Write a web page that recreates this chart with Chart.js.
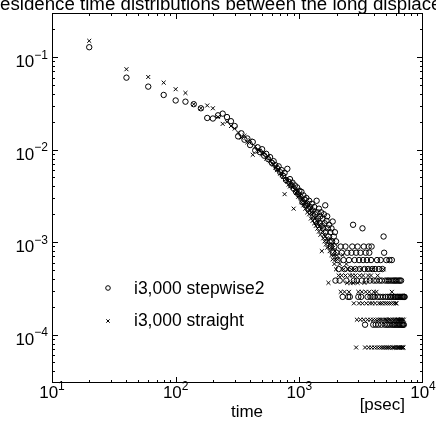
<!DOCTYPE html>
<html>
<head>
<meta charset="utf-8">
<title>Residence time distributions</title>
<script src="https://cdn.jsdelivr.net/npm/chart.js@4.4.1/dist/chart.umd.min.js"></script>
<style>
  html, body { margin: 0; padding: 0; background: #fff; }
  #plot { display: block; }
</style>
</head>
<body>
<canvas id="plot" width="436" height="425"></canvas>
<script>
// --------------- DATA ---------------------
// time bins [psec]
var times = [
    20, 40, 60, 80, 100, 120, 140, 160, 180, 200,
    220, 240, 260, 280, 300, 320, 340, 360, 380, 400,
    420, 440, 460, 480, 500, 520, 540, 560, 580, 600,
    620, 640, 660, 680, 700, 720, 740, 760, 780, 800,
    820, 840, 860, 880, 900, 920, 940, 960, 980, 1000,
    1020, 1040, 1060, 1080, 1100, 1120, 1140, 1160, 1180, 1200,
    1220, 1240, 1260, 1280, 1300, 1320, 1340, 1360, 1380, 1400,
    1420, 1440, 1460, 1480, 1500, 1520, 1540, 1560, 1580, 1600,
    1620, 1640, 1660, 1680, 1700, 1720, 1740, 1760, 1780, 1800,
    1820, 1840, 1860, 1880, 1900, 1920, 1940, 1960, 1980, 2000,
    2040, 2080, 2120, 2160, 2200, 2240, 2280, 2320, 2360, 2400,
    2440, 2480, 2520, 2560, 2600, 2640, 2680, 2720, 2760, 2800,
    2840, 2880, 2920, 2960, 3000, 3040, 3080, 3120, 3160, 3200,
    3240, 3280, 3320, 3360, 3400, 3440, 3480, 3520, 3560, 3600,
    3640, 3680, 3720, 3760, 3800, 3840, 3880, 3920, 3960, 4000,
    4050, 4100, 4150, 4200, 4250, 4300, 4350, 4400, 4450, 4500,
    4550, 4600, 4650, 4700, 4750, 4800, 4850, 4900, 4950, 5000,
    5050, 5100, 5150, 5200, 5250, 5300, 5350, 5400, 5450, 5500,
    5550, 5600, 5650, 5700, 5750, 5800, 5850, 5900, 5950, 6000,
    6050, 6100, 6150, 6200, 6250, 6300, 6350, 6400, 6450, 6500,
    6550, 6600, 6650, 6700, 6750, 6800, 6850, 6900, 6950, 7000,
    7050, 7100
];

// i3,000 stepwise2 (circles)
var stepwise2 = [
    0.128, 0.060, 0.048, 0.039, 0.034, 0.033, 0.031, 0.028, 0.022, 0.0217,
    0.0235, 0.0245, 0.0225, 0.0203, 0.018, 0.0139, 0.0150, 0.0128, 0.0132, 0.0112,
    0.0121, 0.0098, 0.0106, 0.0094, 0.0101, 0.0086, 0.0090, 0.0079, 0.0083, 0.0072,
    0.0075, 0.0068, 0.0063, 0.0066, 0.0057, 0.0060, 0.0052, 0.0056, 0.0047, 0.0062,
    0.0045, 0.0048, 0.0041, 0.0044, 0.0038, 0.0041, 0.0035, 0.0039, 0.0033, 0.0036,
    0.0031, 0.0035, 0.0027, 0.0032, 0.0029, 0.0025, 0.0030, 0.0026, 0.0023, 0.0028,
    0.0024, 0.0021, 0.0026, 0.0022, 0.0019, 0.0024, 0.0020, 0.0017, 0.0028, 0.0021,
    0.0018, 0.0023, 0.0016, 0.0019, 0.0021, 0.0015, 0.0018, 0.0014, 0.0020, 0.0016,
    0.0025, 0.0013, 0.0017, 0.0019, 1.41e-3, 1.15e-3, 1.54e-3, 1.02e-3, 1.28e-3, 8.96e-4,
    1.41e-3, 1.02e-3, 1.67e-3, 7.68e-4, 1.15e-3, 8.96e-4, 1.28e-3, 3.84e-4, 1.02e-3, 7.68e-4,
    6.40e-4, 5.12e-4, 3.84e-4, 8.96e-4, 7.68e-4, 2.56e-4, 6.40e-4, 5.12e-4, 8.96e-4, 3.84e-4,
    7.68e-4, 2.56e-4, 6.40e-4, 2.56e-4, 5.12e-4, 7.68e-4, 8.96e-4, 1.54e-3, 3.84e-4, 6.40e-4,
    5.12e-4, 7.68e-4, 3.84e-4, 8.96e-4, 2.56e-4, 6.40e-4, 5.12e-4, 7.68e-4, 2.56e-4, 3.84e-4,
    1.41e-3, 6.40e-4, 8.96e-4, 5.12e-4, 1.28e-4, 7.68e-4, 3.84e-4, 6.40e-4, 2.56e-4, 5.12e-4,
    8.96e-4, 7.68e-4, 3.84e-4, 2.56e-4, 6.40e-4, 8.96e-4, 5.12e-4, 2.56e-4, 1.28e-4, 3.84e-4,
    2.56e-4, 5.12e-4, 1.28e-4, 3.84e-4, 6.40e-4, 2.56e-4, 1.28e-4, 5.12e-4, 3.84e-4, 2.56e-4,
    6.40e-4, 1.28e-4, 3.84e-4, 5.12e-4, 2.56e-4, 1.15e-3, 7.68e-4, 1.28e-4, 3.84e-4, 2.56e-4,
    6.40e-4, 1.28e-4, 3.84e-4, 2.56e-4, 1.28e-4, 3.84e-4, 6.40e-4, 2.56e-4, 1.28e-4, 3.84e-4,
    2.56e-4, 6.40e-4, 1.28e-4, 3.84e-4, 2.56e-4, 1.28e-4, 3.84e-4, 2.56e-4, 1.28e-4, 3.84e-4,
    2.56e-4, 1.28e-4, 3.84e-4, 2.56e-4, 1.28e-4, 2.56e-4, 3.84e-4, 1.28e-4, 2.56e-4, 3.84e-4,
    1.28e-4, 2.56e-4, 3.84e-4, 1.28e-4, 2.56e-4, 1.28e-4, 2.56e-4, 1.28e-4, 2.56e-4, 1.28e-4,
    2.56e-4, 2.56e-4
];

// i3,000 straight (crosses)
var straight = [
    0.150, 0.074, 0.061, 0.053, 0.045, 0.041, 0.031, 0.028, 0.030, 0.028,
    0.0226, 0.019, 0.020, 0.018, 0.0169, 0.0153, 0.0135, 0.0141, 0.0120, 0.0126,
    0.0088, 0.0108, 0.0100, 0.0097, 0.0089, 0.0092, 0.0080, 0.0084, 0.0075, 0.0071,
    0.0069, 0.0064, 0.0060, 0.0061, 0.0055, 0.0053, 0.0051, 0.0033, 0.0048, 0.0045,
    0.0042, 0.0040, 0.0043, 0.0039, 0.0023, 0.0037, 0.0034, 0.0036, 0.0031, 0.0032,
    0.0030, 0.0027, 0.0029, 0.0025, 0.0027, 0.0023, 0.0026, 0.0021, 0.0024, 0.0020,
    0.0022, 0.0018, 0.0021, 0.0017, 0.0019, 0.0016, 0.0018, 0.0015, 0.0017, 0.0014,
    0.0016, 0.0013, 0.0015, 0.0012, 0.0014, 8.0e-4, 0.0013, 0.0011, 0.0012, 1.02e-3,
    1.16e-3, 9.44e-4, 1.09e-3, 8.71e-4, 1.02e-3, 3.63e-4, 9.44e-4, 7.99e-4, 1.09e-3, 8.71e-4,
    7.26e-4, 9.44e-4, 6.53e-4, 8.71e-4, 7.26e-4, 5.81e-4, 7.99e-4, 6.53e-4, 5.08e-4, 7.26e-4,
    6.53e-4, 4.36e-4, 5.81e-4, 2.90e-4, 4.36e-4, 7.26e-4, 5.08e-4, 2.90e-4, 4.36e-4, 5.81e-4,
    3.63e-4, 5.08e-4, 2.90e-4, 4.36e-4, 3.63e-4, 5.08e-4, 4.36e-4, 3.63e-4, 2.18e-4, 5.08e-4,
    4.36e-4, 7.26e-5, 1.45e-4, 3.63e-4, 2.90e-4, 2.18e-4, 4.36e-4, 1.45e-4, 5.08e-4, 2.90e-4,
    2.18e-4, 4.36e-4, 1.45e-4, 3.63e-4, 7.26e-5, 2.90e-4, 2.18e-4, 5.08e-4, 1.45e-4, 4.36e-4,
    7.26e-5, 2.90e-4, 2.18e-4, 1.45e-4, 4.36e-4, 7.26e-5, 2.18e-4, 5.08e-4, 1.45e-4, 2.90e-4,
    7.26e-5, 2.18e-4, 1.45e-4, 2.90e-4, 7.26e-5, 4.36e-4, 1.45e-4, 2.18e-4, 7.26e-5, 1.45e-4,
    2.18e-4, 7.26e-5, 1.45e-4, 2.18e-4, 7.26e-5, 5.08e-4, 1.45e-4, 7.26e-5, 2.18e-4, 1.45e-4,
    7.26e-5, 1.45e-4, 2.18e-4, 7.26e-5, 1.45e-4, 7.26e-5, 2.18e-4, 1.45e-4, 7.26e-5, 1.45e-4,
    2.18e-4, 2.90e-4, 7.26e-5, 1.45e-4, 7.26e-5, 2.18e-4, 1.45e-4, 7.26e-5, 1.45e-4, 2.18e-4,
    7.26e-5, 2.18e-4, 1.45e-4, 7.26e-5, 1.45e-4, 7.26e-5, 1.45e-4, 7.26e-5, 1.45e-4, 7.26e-5,
    1.45e-4, 7.26e-5, 1.45e-4, 7.26e-5, 1.45e-4, 7.26e-5, 1.45e-4, 7.26e-5, 7.26e-5, 1.45e-4,
    null, null
];

var seriesNames = ["i3,000 stepwise2", "i3,000 straight"];
var titleText = "Residence time distributions between the long displacements";

// axis decades and their labels
var xDecades = [10, 100, 1000, 10000];
var xExponents = ["1", "2", "3", "4"];
var yDecades = [1e-1, 1e-2, 1e-3, 1e-4];
var yExponents = ["\u22121", "\u22122", "\u22123", "\u22124"];
var minorSteps = [2, 3, 4, 5, 6, 7, 8, 9];

// --------------- FUNCTIONS ---------------------
function toPoints(xs, ys) {
    var pts = [];
    for (var i = 0; i < xs.length; i++) {
        if (ys[i] !== null && ys[i] !== undefined) {
            pts.push({x: xs[i], y: ys[i]});
        }
    }
    return pts;
}

var FONT = "'Liberation Sans', Arial, Helvetica, sans-serif";

function drawPow(ctx, x, y, exp, align) {
    // "10" with a superscript exponent; x is the centre or the right edge
    ctx.font = "17px " + FONT;
    var wb = ctx.measureText("10").width;
    ctx.font = "12px " + FONT;
    var we = ctx.measureText(exp).width;
    var left = align === "right" ? x - wb - we : x - (wb + we) / 2;
    ctx.textAlign = "left";
    ctx.textBaseline = "alphabetic";
    ctx.font = "17px " + FONT;
    ctx.fillText("10", left, y);
    ctx.font = "12px " + FONT;
    ctx.fillText(exp, left + wb, y - 8.5);
}

var decorations = {
    id: "decorations",
    afterDraw: function(chart) {
        var ctx = chart.ctx;
        var a = chart.chartArea;
        var xs = chart.scales.x;
        var ys = chart.scales.y;
        ctx.save();
        ctx.strokeStyle = "#000";
        ctx.fillStyle = "#000";
        ctx.lineWidth = 1;

        // frame
        ctx.strokeRect(a.left + 0.5, a.top + 0.5, a.right - a.left - 1, a.bottom - a.top - 1);

        // inward ticks on all four sides
        ctx.beginPath();
        [1, 10, 100, 1000].forEach(function(d) {
            [1].concat(minorSteps).forEach(function(m) {
                var v = m * d;
                if (v <= xs.min || v >= xs.max) return;
                var px = Math.round(xs.getPixelForValue(v)) + 0.5;
                var len = m === 1 ? 6 : 3;
                ctx.moveTo(px, a.bottom); ctx.lineTo(px, a.bottom - len);
                ctx.moveTo(px, a.top); ctx.lineTo(px, a.top + len);
            });
        });
        [1e-5, 1e-4, 1e-3, 1e-2, 1e-1].forEach(function(d) {
            [1].concat(minorSteps).forEach(function(m) {
                var v = m * d;
                if (v <= ys.min * 1.0001 || v >= ys.max * 0.9999) return;
                var py = Math.round(ys.getPixelForValue(v)) + 0.5;
                var len = m === 1 ? 6 : 3;
                ctx.moveTo(a.left, py); ctx.lineTo(a.left + len, py);
                ctx.moveTo(a.right, py); ctx.lineTo(a.right - len, py);
            });
        });
        ctx.stroke();

        // tick labels
        xDecades.forEach(function(v, i) {
            drawPow(ctx, xs.getPixelForValue(v), a.bottom + 15, xExponents[i], "center");
        });
        yDecades.forEach(function(v, i) {
            drawPow(ctx, a.left - 4, ys.getPixelForValue(v) + 10, yExponents[i], "right");
        });

        // axis titles
        ctx.font = "17px " + FONT;
        ctx.textAlign = "center";
        ctx.fillText("time", 247, 417);
        ctx.textAlign = "right";
        ctx.fillText("[psec]", 405, 410);

        // title (runs off the canvas on both sides)
        ctx.font = "18.7px " + FONT;
        ctx.textAlign = "left";
        ctx.fillText(titleText, -13.5, 10);

        // legend
        ctx.font = "17.5px " + FONT;
        ctx.textAlign = "left";
        ctx.textBaseline = "middle";
        ctx.beginPath();
        ctx.arc(108, 288, 2.3, 0, Math.PI * 2);
        ctx.stroke();
        ctx.fillText(seriesNames[0], 134, 289);
        ctx.beginPath();
        ctx.moveTo(106.3, 319.3); ctx.lineTo(109.7, 322.7);
        ctx.moveTo(109.7, 319.3); ctx.lineTo(106.3, 322.7);
        ctx.stroke();
        ctx.fillText(seriesNames[1], 134, 321);

        ctx.restore();
    }
};

var chart = new Chart(document.getElementById("plot"), {
    type: "scatter",
    data: {
        datasets: [{
            label: seriesNames[0],
            data: toPoints(times, stepwise2),
            pointStyle: "circle",
            pointRadius: 2.7,
            pointBorderWidth: 1,
            borderColor: "#000",
            backgroundColor: "rgba(0,0,0,0)",
            pointHoverRadius: 2.7
        }, {
            label: seriesNames[1],
            data: toPoints(times, straight),
            pointStyle: "crossRot",
            pointRadius: 2.8,
            pointBorderWidth: 1,
            borderColor: "#000",
            backgroundColor: "#000",
            pointHoverRadius: 2.8
        }]
    },
    options: {
        responsive: false,
        animation: false,
        devicePixelRatio: 1,
        layout: { padding: { left: 52, right: 13, top: 13, bottom: 42 } },
        scales: {
            x: { type: "logarithmic", min: 10, max: 10000, display: false },
            y: { type: "logarithmic", min: 3e-5, max: 0.3, display: false }
        },
        plugins: {
            legend: { display: false },
            title: { display: false },
            tooltip: { enabled: false }
        }
    },
    plugins: [decorations]
});
</script>
</body>
</html>
